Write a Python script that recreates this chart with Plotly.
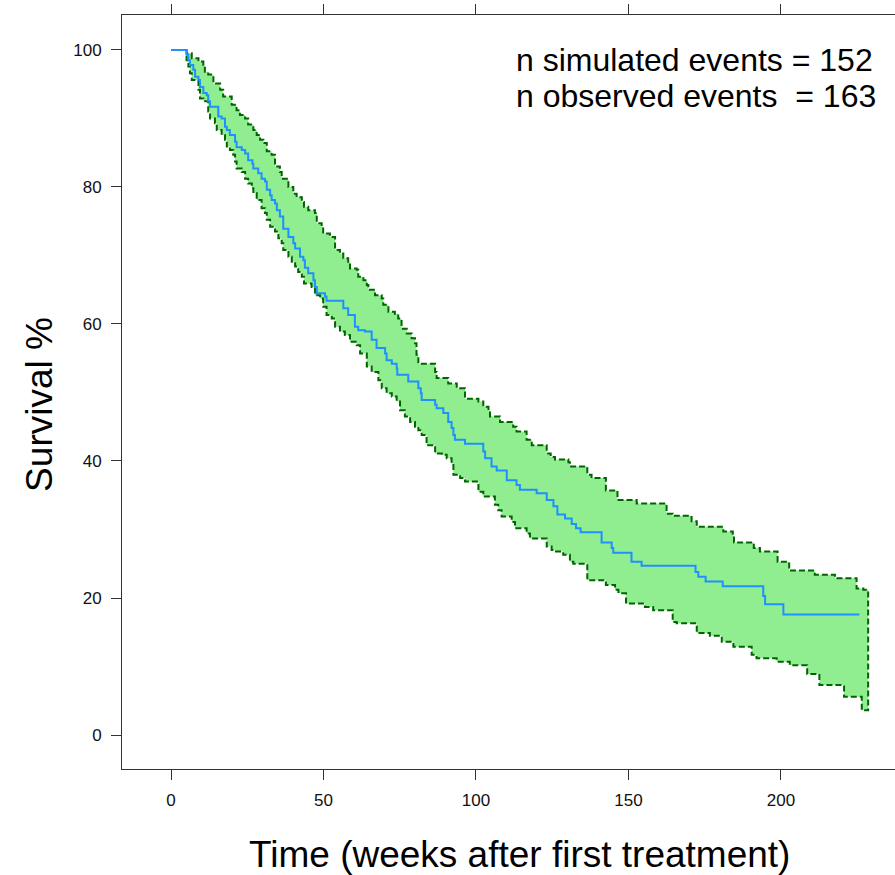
import plotly.graph_objects as go

# Kaplan-Meier estimate (time in weeks, survival % after each step)
km_time = [0, 4.8, 5.1, 5.7, 6.2, 7.3, 7.9, 9.0, 9.5, 10.6, 11.7, 12.2, 12.8, 15.5, 16.6, 17.7, 18.3,
           19.3, 21.0, 21.5, 23.2, 24.3, 25.3, 26.7, 27.0, 28.6, 29.7, 30.8, 31.4, 32.5, 33.0, 34.1,
           34.7, 35.7, 36.8, 38.5, 40.1, 40.7, 42.3, 43.4, 43.9, 45.0, 46.7, 47.2, 47.8, 50.5, 51.0,
           56.5, 58.1, 60.3, 61.4, 63.6, 65.8, 67.4, 70.2, 70.7, 72.4, 74.0, 74.2, 77.8, 81.1, 81.9,
           82.2, 86.6, 87.1, 89.3, 90.9, 92.0, 92.6, 93.1, 96.4, 102.4, 103.0, 105.1, 106.8, 110.1,
           113.3, 114.4, 119.9, 123.2, 125.4, 126.7, 129.2, 131.4, 132.8, 134.3, 141.2, 144.5, 145.0,
           151.0, 154.3, 172.0, 172.9, 175.3, 180.9, 194.2, 194.8, 200.8, 225.7]
km_surv = [100, 100, 99.3, 98.5, 97.8, 97.1, 96.1, 95.6, 94.6, 93.7, 93.4, 92.5, 91.7, 90.3, 90.0, 88.8,
           88.3, 87.6, 86.6, 85.8, 85.4, 84.9, 83.9, 83.4, 82.7, 82.0, 81.2, 80.8, 79.6, 78.8, 78.1,
           77.6, 76.6, 75.7, 73.9, 72.7, 71.8, 71.0, 69.8, 69.3, 68.2, 67.4, 66.4, 65.4, 64.5, 64.0,
           63.4, 62.3, 61.3, 59.6, 59.1, 58.9, 57.7, 56.5, 55.7, 54.7, 54.2, 53.5, 52.6, 51.6, 50.6,
           49.9, 48.9, 48.2, 47.7, 47.0, 45.7, 44.8, 43.8, 43.1, 42.5, 41.4, 40.4, 39.2, 38.6, 37.2,
           36.5, 35.8, 35.3, 34.3, 33.4, 32.2, 31.6, 30.8, 30.2, 29.6, 28.1, 27.3, 26.6, 25.3, 24.7,
           23.8, 23.1, 22.4, 21.7, 20.3, 19.1, 17.6, 17.6]

# Upper simulation band
up_time = [4.8, 5.1, 6.8, 9.0, 10.6, 11.1, 12.2, 13.9, 16.1, 17.1, 19.9, 21.5, 22.6, 24.3, 25.3, 27.0,
           28.1, 29.2, 30.3, 31.4, 33.0, 34.1, 35.7, 36.3, 38.5, 40.1, 41.2, 42.9, 43.6, 45.0, 47.2,
           47.8, 49.4, 49.9, 52.1, 53.8, 55.4, 56.5, 58.1, 58.7, 60.9, 61.4, 63.1, 64.2, 64.7, 66.9,
           69.1, 69.6, 71.3, 73.4, 74.5, 75.6, 77.3, 78.9, 80.0, 80.5, 81.1, 86.6, 87.1, 90.9, 93.7,
           96.4, 100.8, 102.4, 104.1, 104.6, 107.9, 112.2, 113.3, 116.6, 118.3, 123.2, 124.5, 125.9,
           130.3, 130.8, 136.5, 137.9, 142.6, 146.4, 152.7, 162.5, 164.5, 170.7, 172.4, 181.1, 184.2,
           184.6, 191.1, 193.1, 198.9, 202.7, 211.1, 217.7, 224.8, 227.0, 228.6]
up_surv = [100, 99.5, 98.8, 98.3, 97.8, 96.8, 96.4, 95.1, 94.2, 93.2, 92.0, 91.2, 90.5, 90.0, 89.1, 88.3,
           87.6, 86.9, 86.4, 85.2, 84.7, 83.0, 82.2, 81.2, 80.0, 79.0, 78.5, 77.8, 77.1, 76.6, 76.2,
           74.7, 74.2, 73.2, 72.7, 70.8, 70.3, 69.6, 69.1, 68.1, 67.9, 66.9, 66.4, 65.7, 65.0, 64.2,
           63.7, 62.8, 61.8, 61.5, 60.8, 59.3, 58.6, 57.9, 57.2, 55.5, 54.2, 53.0, 52.1, 51.3, 50.6,
           49.1, 48.7, 47.9, 47.4, 46.5, 45.7, 45.0, 44.3, 43.1, 42.3, 41.1, 40.6, 40.2,
           39.8, 39.2, 38.0, 37.5, 35.7, 34.3, 33.8, 32.3, 32.0, 31.2, 30.4, 29.7, 29.1,
           28.1, 27.3, 26.8, 25.3, 24.0, 23.4, 22.9, 21.4, 21.2, 21.2]

# Lower simulation band
lo_time = [4.8, 5.1, 5.7, 6.2, 6.8, 9.0, 9.5, 10.6, 12.2, 12.8, 14.4, 15.0, 16.6, 17.7, 18.3, 19.3,
           20.4, 21.0, 21.5, 23.2, 24.3, 25.3, 26.5, 27.0, 28.1, 29.7, 30.8, 31.4, 32.5, 34.1, 35.2,
           36.3, 36.8, 38.5, 39.6, 40.7, 41.7, 42.9, 43.6, 46.1, 47.2, 48.9, 49.9, 51.0, 52.7, 53.8,
           55.4, 57.0, 58.7, 60.9, 62.0, 64.2, 65.8, 68.0, 69.1, 70.7, 72.4, 74.0, 75.1, 76.7, 78.4,
           80.0, 81.1, 82.2, 83.8, 86.6, 88.8, 90.4, 92.0, 92.6, 94.8, 96.4, 100.8, 102.4, 106.2,
           107.3, 108.4, 111.7, 112.8, 116.6, 117.7, 123.2, 124.8, 125.9, 128.6, 130.8, 131.9, 136.5,
           142.6, 145.6, 146.7, 149.2, 155.4, 158.1, 164.5, 165.8, 172.4, 176.7, 180.6, 184.4, 190.4,
           192.0, 198.6, 202.9, 208.6, 212.6, 220.7, 226.5, 228.6]
lo_surv = [100, 98.5, 97.6, 96.6, 95.6, 94.2, 92.9, 92.5, 91.0, 90.0, 89.3, 88.3, 87.6, 86.9, 85.9, 85.4,
           84.7, 83.7, 82.7, 82.2, 81.2, 80.5, 79.8, 79.1, 78.1, 76.9, 76.2, 75.2, 74.2, 73.5, 72.5,
           71.8, 70.8, 69.8, 69.1, 68.4, 67.6, 66.9, 65.9, 65.4, 64.2, 63.7, 62.5, 61.3, 60.8, 59.6,
           58.9, 58.4, 57.4, 56.9, 55.7, 53.8, 53.0, 51.8, 50.6, 49.9, 49.4, 48.7, 47.4, 46.5, 45.7,
           45.0, 44.5, 43.8, 42.3, 41.1, 40.9, 40.4, 39.6, 38.0, 37.5, 37.0, 35.5, 34.8, 33.6,
           32.8, 31.9, 31.1, 30.2, 29.4, 28.7, 27.5, 27.0, 26.8, 26.3, 25.3, 25.0, 22.6,
           21.9, 21.2, 20.7, 19.2, 18.7, 18.2, 16.5, 16.3, 14.9, 14.5, 13.6, 12.9, 11.7,
           11.2, 10.7, 10.2, 8.9, 7.3, 5.6, 3.6, 3.6]

x_ticks = [0, 50, 100, 150, 200]
y_ticks = [0, 20, 40, 60, 80, 100]
n_simulated = 152
n_observed = 163


def step_points(ts, vs):
    xs, ys = [ts[0]], [vs[0]]
    for i in range(1, len(ts)):
        xs += [ts[i], ts[i]]
        ys += [vs[i - 1], vs[i]]
    return xs, ys


ux, uy = step_points(up_time, up_surv)
lx, ly = step_points(lo_time, lo_surv)
poly_x = ux + lx[::-1]
poly_y = uy + ly[::-1]
poly_x.append(poly_x[0])
poly_y.append(poly_y[0])

fig = go.Figure()
fig.add_trace(go.Scatter(
    x=poly_x, y=poly_y, mode="lines", fill="toself",
    fillcolor="#90EE90",
    line=dict(color="#006400", width=2, dash="6px,3px"),
    hoverinfo="skip", showlegend=False))
fig.add_trace(go.Scatter(
    x=km_time, y=km_surv, mode="lines", line_shape="hv",
    line=dict(color="#1E90FF", width=2), showlegend=False))

font_main = "Arial, 'Liberation Sans', sans-serif"
fig.update_layout(
    width=895, height=875,
    margin=dict(l=122, r=0, t=15, b=106),
    paper_bgcolor="white", plot_bgcolor="white",
    font=dict(family=font_main, color="black"),
    xaxis=dict(range=[-16.07, 237.4], tickvals=x_ticks, ticks="outside", ticklen=10,
               tickcolor="#333", showline=True, linecolor="#333", linewidth=1,
               mirror="ticks", showgrid=False, zeroline=False,
               tickfont=dict(size=17, color="#111"), ticklabelstandoff=6),
    yaxis=dict(range=[-4.96, 105.1], tickvals=y_ticks, ticks="outside", ticklen=10,
               tickcolor="#333", showline=True, linecolor="#333", linewidth=1,
               showgrid=False, zeroline=False,
               tickfont=dict(size=17, color="#111"), ticklabelstandoff=6),
    annotations=[
        dict(text="Time (weeks after first treatment)", xref="paper", yref="paper",
             x=0.514, y=-0.113, xanchor="center", yanchor="middle", showarrow=False,
             font=dict(size=37, color="black")),
        dict(text="Survival %", xref="paper", yref="paper", textangle=-90,
             x=-0.106, y=0.483, xanchor="center", yanchor="middle", showarrow=False,
             font=dict(size=37, color="black")),
        dict(text=f"n simulated events = {n_simulated}", xref="paper", yref="paper",
             x=0.507, y=0.940, xanchor="left", yanchor="middle", showarrow=False,
             font=dict(size=32, color="black")),
        dict(text=f"n observed events\u00a0\u00a0= {n_observed}", xref="paper", yref="paper",
             x=0.507, y=0.8926, xanchor="left", yanchor="middle", showarrow=False,
             font=dict(size=32, color="black")),
    ],
)

fig.write_html("out.html")
